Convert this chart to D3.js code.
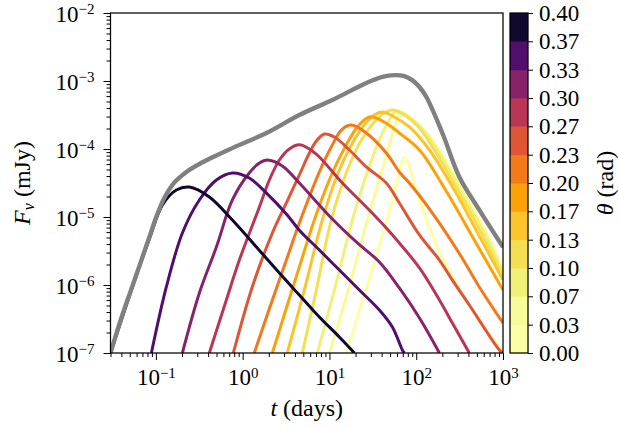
<!DOCTYPE html>
<html>
<head>
<meta charset="utf-8">
<script src="https://cdn.jsdelivr.net/npm/d3@7"></script>
<style>
    body { margin: 0; background: #fff; }
    svg text { font-family: "Liberation Serif", "DejaVu Serif", serif; fill: #000; }
</style>
</head>
<body>
<div id="graph"></div>
<script>
/*
    Data: [t (days), F_nu (mJy)]
*/
var envelope = [[0.03,1e-7],[0.04,3.27e-7],[0.0536,9.6e-7],[0.0842,5.08e-6],[0.101,1e-5],
    [0.125,1.9e-5],[0.163,3.2e-5],[0.225,4.6e-5],[0.317,6.02e-5],[0.761,1.03e-4],[1.88,1.72e-4],[4.5,3.16e-4],
    [10.8,5.26e-4],[26.6,9.35e-4],[40.7,1.15e-3],[55.9,1.22e-3],[73,1.18e-3],[90,1.03e-3],
    [109,8.16e-4],[131,5.82e-4],[200,1.72e-4],[314,3.88e-5],[533,1.27e-5],[1000,3.6e-6]]

// one curve per viewing angle, from theta = 0.02 (first) to theta = 0.38 (last)
var curve00 = [[15.7,1e-7],[22.1,4.15e-7],[30.4,1.55e-6],[45.2,8.43e-6],[57.4,2.67e-5],[65.6,5.25e-5],
    [71,7.4e-5],[76,7.2e-5],[81,6.2e-5],[100,2.49e-5],[153,5.44e-6],[222,1.97e-6],[409,5.08e-7],[1000,1.03e-7]]
var curve01 = [[9.97,1e-7],[16.5,8.44e-7],[27.3,9.04e-6],[37.6,3.5e-5],[49,1.15e-4],[57.4,2.33e-4],
    [65.6,3.38e-4],[90.2,2.67e-4],[131,1.72e-4],[190,9.04e-5],[368,2.04e-5],[660,5.44e-6],[1000,1.66e-6]]
var curve02 = [[7.26,1e-7],[11.4,8.44e-7],[18.4,9.04e-6],[26.6,4.15e-5],[37.6,1.36e-4],[49,2.67e-4],
    [59,3.62e-4],[83.3,2.96e-4],[121,1.9e-4],[175,9.67e-5],[340,2.18e-5],[625,5.44e-6],[1000,1.5e-6]]
var curve03 = [[4.87,1e-7],[7.07,8.44e-7],[10.5,9.04e-6],[16.1,4.91e-5],[23.3,1.36e-4],[32.9,2.49e-4],
    [42.9,3.38e-4],[53.1,3.75e-4],[73,3.16e-4],[109,2.04e-4],[162,9.67e-5],[314,2.25e-5],[578,5.44e-6],[1000,1.36e-6]]
var curve04 = [[3.27,1e-7],[5.14,8.44e-7],[8.28,9.04e-6],[12.3,4.15e-5],[17.9,1.15e-4],[25.2,2.25e-4],
    [32.9,3.16e-4],[40.7,3.5e-4],[55.9,2.96e-4],[83.3,2.11e-4],[142,9.67e-5],[275,2.49e-5],[533,5.25e-6],[1000,1.18e-6]]
var curve05 = [[2.2,1e-7],[3.19,4.59e-7],[4.5,1.84e-6],[6.7,9.04e-6],[9.97,3.5e-5],[14.9,1.03e-4],
    [21,2.11e-4],[28.8,2.96e-4],[42.9,2.49e-4],[63.9,1.72e-4],[109,9.67e-5],[211,2.67e-5],[467,4.59e-6],[1000,8.44e-7]]
var curve06 = [[1.36,1e-7],[2.2,6.02e-7],[3.19,2.33e-6],[4.5,8.16e-6],[7.65,4.59e-5],[10.8,1.15e-4],
    [13.7,1.9e-4],[17.9,2.25e-4],[26.6,1.72e-4],[45.2,8.73e-5],[63.9,4.59e-5],[83.3,3.16e-5],[153,1.15e-5],
    [322,2.76e-6],[533,9.35e-7],[1000,2.76e-7]]
var curve07 = [[0.781,1e-7],[1.29,9.35e-7],[2.2,5.82e-6],[3.19,1.61e-5],[4.5,4.15e-5],[5.87,8.73e-5],
    [7.07,1.31e-4],[8.74,1.66e-4],[11.4,1.5e-4],[17,9.67e-5],[26.6,5.44e-5],[45.2,3.16e-5],[63.9,1.61e-5],
    [109,5.44e-6],[185,2.33e-6],[261,1.18e-6],[409,5.08e-7],[907,1.11e-7],[1000,1e-7]]
var curve08 = [[0.413,1e-7],[0.649,6.02e-7],[0.916,2.33e-6],[1.56,1.4e-5],[2.03,3.5e-5],[2.65,6.89e-5],
    [3.45,1e-4],[4.5,1.15e-4],[5.87,1e-4],[7.65,7.63e-5],[14.1,3.16e-5],[26.6,1.4e-5],[45.2,6.89e-6],
    [63.9,4.15e-6],[109,1.78e-6],[185,6.02e-7],[261,2.76e-7],[409,1e-7]]
var curve09 = [[0.202,1e-7],[0.317,7.63e-7],[0.498,3.62e-6],[0.761,1.78e-5],[1.19,4.44e-5],[1.56,6.22e-5],
    [1.93,6.89e-5],[2.87,5.62e-5],[4.5,3.16e-5],[10.8,9.35e-6],[21,4.15e-6],[37.6,2.18e-6],[63.9,9.04e-7],
    [109,3.27e-7],[185,1e-7]]
var curve10 = [[0.0888,1e-7],[0.132,9.35e-7],[0.202,5.82e-6],[0.317,1.78e-5],[0.498,3.5e-5],[0.761,4.44e-5],
    [1.19,3.75e-5],[1.88,2.25e-5],[3.19,1.11e-5],[4.5,6.4e-6],[7.65,3.27e-6],[13,1.66e-6],[22.1,8.44e-7],
    [37.6,4.29e-7],[53.1,2.41e-7],[69.2,1.11e-7],[73,1e-7]]
var curve11 = [[0.03,1e-7],[0.0536,9.35e-7],[0.0842,4.8e-6],[0.119,1.5e-5],[0.172,2.49e-5],[0.243,2.76e-5],
    [0.413,1.97e-5],[0.761,9.04e-6],[1.44,3.62e-6],[2.65,1.5e-6],[4.5,7.13e-7],[7.65,3.38e-7],[13,1.72e-7],[19.4,1e-7]]

var curves = [curve00, curve01, curve02, curve03, curve04, curve05,
              curve06, curve07, curve08, curve09, curve10, curve11]
var thetaLines = [0.0167, 0.05, 0.0833, 0.1167, 0.15, 0.1833, 0.2167, 0.25, 0.2833, 0.3167, 0.35, 0.3833]

// colorbar bins and labels
var thetaBounds = [0, 0.0333, 0.0667, 0.1, 0.1333, 0.1667, 0.2, 0.2333, 0.2667, 0.3, 0.3333, 0.3667, 0.4]
var thetaLabels = ["0.00","0.03","0.07","0.10","0.13","0.17","0.20","0.23","0.27","0.30","0.33","0.37","0.40"]

var xMajor = [0.1, 1, 10, 100, 1000],
    xExp = ["−1", "0", "1", "2", "3"],
    yMajor = [1e-7, 1e-6, 1e-5, 1e-4, 1e-3, 1e-2],
    yExp = ["−7", "−6", "−5", "−4", "−3", "−2"]

/*
    Layout
*/
var plot = {left: 110.5, right: 503, top: 13, bottom: 353},
    cbar = {left: 510, right: 528},
    fontSize = 23,
    supSize = 15

var svg = d3.select("#graph").append("svg")
            .attr("width", 619)
            .attr("height", 429)

var x = d3.scaleLog().domain([0.03, 1000]).range([plot.left, plot.right]),
    y = d3.scaleLog().domain([1e-7, 1e-2]).range([plot.bottom, plot.top]),
    yBar = d3.scaleLinear().domain([0, 0.4]).range([plot.bottom, plot.top])

function thetaColor( theta ) {
    var u = theta / 0.4
    return d3.interpolateInferno(1 - u * u)
}

svg.append("clipPath")
    .attr("id", "clip")
    .append("rect")
    .attr("x", plot.left)
    .attr("y", plot.top)
    .attr("width", plot.right - plot.left)
    .attr("height", plot.bottom - plot.top)

var line = d3.line()
    .x(function( d ) { return x(d[0]) })
    .y(function( d ) { return y(d[1]) })
    .curve(d3.curveCatmullRom.alpha(0.5))

var lines = svg.append("g").attr("clip-path", "url(#clip)")

curves.forEach(function( c, i ) {
    lines.append("path")
        .attr("d", line(c))
        .attr("fill", "none")
        .attr("stroke", thetaColor(thetaLines[i]))
        .attr("stroke-width", 3)
        .attr("stroke-linejoin", "round")
})

lines.append("path")
    .attr("d", line(envelope))
    .attr("fill", "none")
    .attr("stroke", "#808080")
    .attr("stroke-width", 4.4)
    .attr("stroke-linejoin", "round")

/*
    Axes
*/
function isMajor( v ) {
    return Math.abs(Math.log10(v) - Math.round(Math.log10(v))) < 1e-6
}

var xMinor = x.ticks().filter(function( v ) { return !isMajor(v) }),
    yMinor = y.ticks().filter(function( v ) { return !isMajor(v) })

function styleAxis( g ) {
    g.select(".domain").remove()
    g.selectAll(".tick line").attr("stroke", "#000").attr("stroke-width", 1)
}

function powerLabel( exps ) {
    return function( d, i ) {
        var t = d3.select(this)
        t.text("10")
        t.append("tspan").attr("dy", -7.5).attr("font-size", supSize).text(exps[i])
    }
}

svg.append("g")
    .attr("transform", "translate(0," + plot.bottom + ")")
    .call(d3.axisBottom(x).tickValues(xMinor).tickSize(4).tickFormat(""))
    .call(styleAxis)

svg.append("g")
    .attr("transform", "translate(0," + plot.bottom + ")")
    .call(d3.axisBottom(x).tickValues(xMajor).tickSize(7).tickPadding(9).tickFormat(function() { return "" }))
    .call(styleAxis)
    .selectAll(".tick text")
    .attr("font-size", fontSize)
    .each(powerLabel(xExp))

svg.append("g")
    .attr("transform", "translate(" + plot.left + ",0)")
    .call(d3.axisLeft(y).tickValues(yMinor).tickSize(4).tickFormat(""))
    .call(styleAxis)

svg.append("g")
    .attr("transform", "translate(" + plot.left + ",0)")
    .call(d3.axisLeft(y).tickValues(yMajor).tickSize(7).tickPadding(9).tickFormat(function() { return "" }))
    .call(styleAxis)
    .selectAll(".tick text")
    .attr("font-size", fontSize)
    .attr("dy", "0.36em")
    .each(powerLabel(yExp))

// frame
svg.append("rect")
    .attr("x", plot.left)
    .attr("y", plot.top)
    .attr("width", plot.right - plot.left)
    .attr("height", plot.bottom - plot.top)
    .attr("fill", "none")
    .attr("stroke", "#000")
    .attr("stroke-width", 1.25)

// axis labels
var xLab = svg.append("text")
    .attr("x", (plot.left + plot.right) / 2)
    .attr("y", 416)
    .attr("text-anchor", "middle")
    .attr("font-size", fontSize + 1)
xLab.append("tspan").attr("font-style", "italic").text("t")
xLab.append("tspan").text(" (days)")

var yLab = svg.append("text")
    .attr("transform", "translate(30," + (plot.top + plot.bottom) / 2 + ") rotate(-90)")
    .attr("text-anchor", "middle")
    .attr("font-size", fontSize + 1)
yLab.append("tspan").attr("font-style", "italic").text("F")
yLab.append("tspan").attr("font-style", "italic").attr("font-size", supSize + 1).attr("dy", 4).text("ν")
yLab.append("tspan").attr("dy", -4).text(" (mJy)")

/*
    Colorbar
*/
var bins = thetaBounds.slice(0, -1).map(function( b, i ) {
    return {lo: b, hi: thetaBounds[i + 1]}
})

svg.append("g").selectAll("rect")
    .data(bins)
    .enter().append("rect")
    .attr("x", cbar.left)
    .attr("y", function( d ) { return yBar(d.hi) })
    .attr("width", cbar.right - cbar.left)
    .attr("height", function( d ) { return yBar(d.lo) - yBar(d.hi) + 0.5 })
    .attr("fill", function( d ) { return thetaColor((d.lo + d.hi) / 2) })

svg.append("rect")
    .attr("x", cbar.left)
    .attr("y", plot.top)
    .attr("width", cbar.right - cbar.left)
    .attr("height", plot.bottom - plot.top)
    .attr("fill", "none")
    .attr("stroke", "#000")
    .attr("stroke-width", 1.25)

svg.append("g")
    .attr("transform", "translate(" + cbar.right + ",0)")
    .call(d3.axisRight(yBar).tickValues(thetaBounds).tickSize(5).tickPadding(6)
        .tickFormat(function( d, i ) { return thetaLabels[i] }))
    .call(styleAxis)
    .selectAll(".tick text")
    .attr("font-size", fontSize)

var cLab = svg.append("text")
    .attr("transform", "translate(613," + (plot.top + plot.bottom) / 2 + ") rotate(-90)")
    .attr("text-anchor", "middle")
    .attr("font-size", fontSize + 1)
cLab.append("tspan").attr("font-style", "italic").text("θ")
cLab.append("tspan").text(" (rad)")
</script>
</body>
</html>
